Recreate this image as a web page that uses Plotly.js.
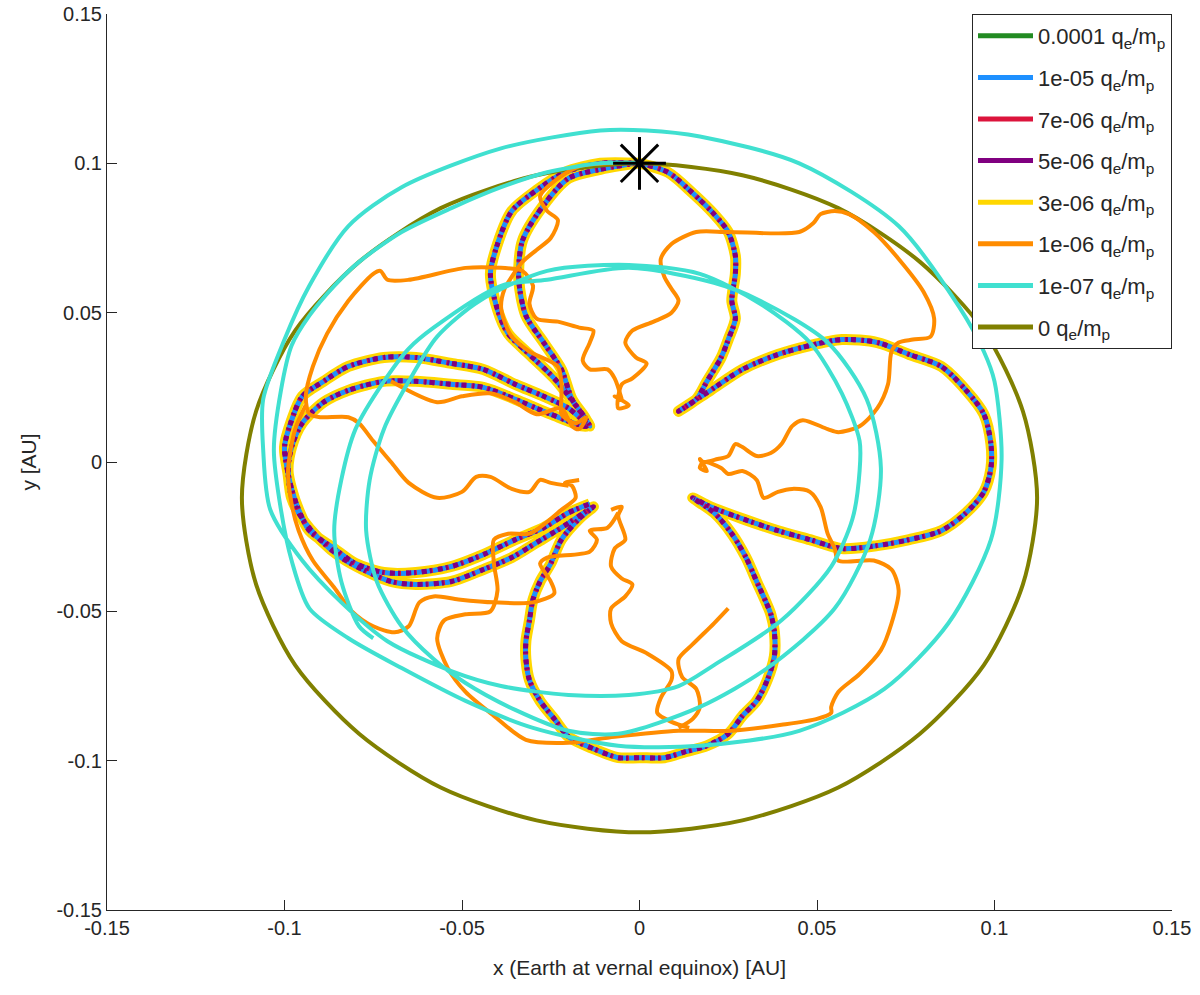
<!DOCTYPE html>
<html>
<head>
<meta charset="utf-8">
<script src="https://cdn.plot.ly/plotly-3.0.1.min.js"></script>
<style>
  body { margin: 0; background: #fff; }
  #plot { width: 1200px; height: 995px; }
</style>
</head>
<body>
<div id="plot"></div>
<script>
// axis ticks
let tickVals = [-0.15, -0.1, -0.05, 0, 0.05, 0.1, 0.15];
let tickText = ["-0.15", "-0.1", "-0.05", "0", "0.05", "0.1", "0.15"];

// start point (asterisk)
let startX = [0];
let startY = [0.1];

// 0 qe/mp : unperturbed orbit
let olvX = [0.000, 0.029, 0.056, 0.079, 0.097, 0.108, 0.112, 0.108, 0.097, 0.079, 0.056, 0.029, 0.000,
  -0.029, -0.056, -0.079, -0.097, -0.108, -0.112, -0.108, -0.097, -0.079, -0.056, -0.029, 0.000];
let olvY = [0.100, 0.096, 0.085, 0.067, 0.044, 0.017, -0.012, -0.041, -0.068, -0.091, -0.109, -0.120, -0.124,
  -0.120, -0.109, -0.091, -0.068, -0.041, -0.012, 0.017, 0.044, 0.067, 0.085, 0.096, 0.100];

// 1e-07 qe/mp
let cyanX = [0.000, -0.011, -0.026, -0.039, -0.053, -0.067, -0.079, -0.086, -0.093, -0.098, -0.101, -0.103, -0.101,
  -0.098, -0.093, -0.082, -0.067, -0.049, -0.030, -0.006, 0.017, 0.045, 0.069, 0.087, 0.099, 0.102, 0.100, 0.097,
  0.090, 0.073, 0.045, 0.017, 0.002, -0.011, -0.039, -0.067, -0.082, -0.093, -0.100, -0.106, -0.106, -0.104,
  -0.095, -0.084, -0.071, -0.053, -0.039, -0.020, -0.003, 0.011, 0.021, 0.040, 0.054, 0.060, 0.062, 0.062, 0.057,
  0.048, 0.034, 0.017, -0.003, -0.026, -0.045, -0.057, -0.065, -0.072, -0.076, -0.077, -0.074, -0.067, -0.058,
  -0.049, -0.035, -0.020, -0.006, 0.017, 0.036, 0.055, 0.065, 0.068, 0.064, 0.053, 0.034, 0.021, -0.003, -0.026,
  -0.039, -0.058, -0.065, -0.072, -0.080, -0.084, -0.086, -0.084, -0.079, -0.075];
let cyanY = [0.100, 0.100, 0.097, 0.092, 0.085, 0.077, 0.067, 0.059, 0.049, 0.039, 0.024, 0.004, -0.016,
  -0.033, -0.049, -0.059, -0.069, -0.080, -0.089, -0.095, -0.095, -0.090, -0.076, -0.054, -0.026, 0.001, 0.027, 0.037,
  0.052, 0.079, 0.100, 0.109, 0.111, 0.111, 0.105, 0.092, 0.079, 0.059, 0.041, 0.021, 0.004, -0.016,
  -0.033, -0.047, -0.060, -0.070, -0.075, -0.078, -0.078, -0.075, -0.068, -0.053, -0.035, -0.019, -0.003, 0.007, 0.023,
  0.040, 0.053, 0.063, 0.066, 0.064, 0.054, 0.042, 0.027, 0.011, -0.006, -0.023, -0.040, -0.055, -0.066,
  -0.074, -0.083, -0.090, -0.091, -0.082, -0.069, -0.049, -0.026, -0.002, 0.021, 0.040, 0.054, 0.060, 0.065, 0.061,
  0.059, 0.045, 0.038, 0.027, 0.011, -0.006, -0.023, -0.040, -0.055, -0.059];

// four-petal path shared by 1e-04 ... 3e-06 qe/mp
let petalX = [
  // top petal, left side (outer)
  0.000, -0.011, -0.021, -0.029, -0.036, -0.040, -0.042, -0.040, -0.037, -0.031, -0.024, -0.018, -0.014,
  // left petal
  -0.020, -0.027, -0.035, -0.044, -0.053, -0.063, -0.072, -0.082, -0.089, -0.095, -0.098, -0.100, -0.099, -0.098,
  -0.095, -0.090, -0.084, -0.078, -0.070, -0.063, -0.053, -0.044, -0.036, -0.029, -0.022, -0.013,
  // bottom petal
  -0.017, -0.022, -0.025, -0.028, -0.030, -0.031, -0.032, -0.032, -0.031, -0.028, -0.024, -0.020, -0.013, -0.006,
  0.000, 0.007, 0.013, 0.019, 0.025, 0.029, 0.033, 0.036, 0.038, 0.038, 0.037, 0.033, 0.030, 0.026, 0.021, 0.015,
  // right petal
  0.020, 0.029, 0.039, 0.048, 0.057, 0.067, 0.076, 0.085, 0.092, 0.097, 0.099, 0.099, 0.097, 0.092, 0.085, 0.076,
  0.067, 0.057, 0.048, 0.039, 0.029, 0.020, 0.011,
  // top petal, right side
  0.016, 0.019, 0.023, 0.025, 0.027, 0.026, 0.027, 0.027, 0.025, 0.021, 0.015, 0.008, 0.000,
  // top petal, left side (inner)
  -0.001, -0.011, -0.020, -0.027, -0.033, -0.034, -0.032, -0.027, -0.022, -0.019, -0.015,
  // left petal, second pass
  -0.015, -0.025, -0.035, -0.044, -0.053, -0.063, -0.072, -0.082, -0.089, -0.095, -0.098, -0.099, -0.098,
  -0.096, -0.093, -0.086, -0.080, -0.072, -0.063, -0.053, -0.044, -0.035, -0.027, -0.020, -0.014];
let petalY = [
  0.100, 0.100, 0.097, 0.091, 0.084, 0.073, 0.063, 0.051, 0.043, 0.036, 0.028, 0.019, 0.012,
  0.018, 0.022, 0.026, 0.031, 0.033, 0.035, 0.035, 0.032, 0.027, 0.022, 0.014, 0.005, -0.004, -0.012,
  -0.019, -0.026, -0.032, -0.036, -0.040, -0.041, -0.040, -0.036, -0.032, -0.027, -0.022, -0.015,
  -0.019, -0.026, -0.034, -0.040, -0.046, -0.053, -0.060, -0.066, -0.073, -0.080, -0.086, -0.092, -0.096, -0.099,
  -0.099, -0.099, -0.097, -0.095, -0.091, -0.085, -0.080, -0.073, -0.065, -0.057, -0.051, -0.040, -0.032, -0.024, -0.017, -0.012,
  -0.015, -0.019, -0.023, -0.026, -0.029, -0.028, -0.026, -0.023, -0.017, -0.010, -0.002, 0.006, 0.016, 0.024, 0.032, 0.036,
  0.040, 0.041, 0.039, 0.036, 0.031, 0.024, 0.017,
  0.021, 0.027, 0.035, 0.041, 0.048, 0.054, 0.063, 0.069, 0.077, 0.083, 0.090, 0.097, 0.100,
  0.100, 0.098, 0.095, 0.086, 0.074, 0.061, 0.049, 0.040, 0.031, 0.021, 0.014,
  0.012, 0.016, 0.021, 0.025, 0.026, 0.027, 0.027, 0.024, 0.020, 0.013, 0.005, -0.003, -0.009,
  -0.016, -0.023, -0.029, -0.034, -0.037, -0.037, -0.035, -0.031, -0.026, -0.022, -0.017, -0.014];

// 1e-06 qe/mp (pieces separated by null)
let orangeX = [
  0.000, -0.009, -0.017, -0.024, -0.028, -0.026, -0.023, -0.025, -0.029, -0.033, -0.036, -0.038, -0.039, -0.038,
  -0.036, -0.031, -0.023, -0.022, -0.022, -0.022, -0.018, -0.015, -0.017, -0.019, -0.022, -0.029, -0.035, -0.042,
  -0.050, -0.057, -0.070, null,
  -0.005, -0.007, -0.003, -0.006, -0.005, -0.002, 0.002, -0.001, -0.004, -0.002, 0.004, 0.009, 0.011, 0.009, 0.007,
  0.006, 0.009, 0.016, 0.025, 0.045, 0.049, 0.051, 0.055, 0.059, 0.066, 0.073, 0.080, 0.083, 0.082, 0.077, 0.073,
  0.071, 0.070, 0.067, 0.062, 0.056, 0.053, 0.046, 0.043, 0.040, 0.037, 0.033, 0.029, 0.027, 0.025, 0.022, 0.018,
  0.017, 0.019, 0.017, 0.018, 0.023, 0.025, 0.029, 0.033, 0.035, 0.039, 0.043, 0.048, 0.051, 0.053, 0.055, 0.056,
  0.066, 0.071, 0.073, 0.071, 0.068, 0.062, 0.056, 0.054, 0.054, 0.050, 0.040, 0.026, 0.011, -0.007, -0.020, -0.032,
  -0.041, -0.049, -0.054, -0.057, -0.055, -0.049, -0.042, -0.040, -0.041, -0.041, -0.037, -0.031, -0.026, -0.022,
  -0.018, -0.019, -0.021, -0.017, null,
  -0.005, -0.007, -0.009, -0.014, -0.016, -0.014, -0.013, -0.017, -0.023, -0.029, -0.031, -0.030, -0.033, -0.039,
  -0.049, -0.065, -0.071, -0.073, -0.075, -0.082, -0.088, -0.092, -0.094, -0.093, -0.090, -0.082, -0.079, -0.075,
  -0.070, -0.065, -0.057, -0.050, -0.046, -0.042, -0.036, -0.031, -0.028, -0.025, -0.020, null,
  -0.008, -0.005, -0.006, -0.004, -0.007, -0.008, -0.005, -0.002, -0.004, -0.008, -0.008, -0.005, 0.002, 0.009,
  0.009, 0.006, 0.005, 0.009, 0.014, null,
  0.025, 0.021, 0.015, 0.011, 0.012, 0.016, 0.017, 0.015, 0.011, null,
  -0.006, -0.009, -0.014, -0.012, -0.014, -0.026, -0.028, -0.025, -0.024, -0.030, -0.041, -0.051, -0.058, -0.062,
  -0.065, -0.069, -0.075, -0.081, -0.086, -0.092, -0.096, -0.098, -0.099, -0.097, -0.094];
let orangeY = [
  0.100, 0.100, 0.099, 0.094, 0.089, 0.084, 0.081, 0.075, 0.071, 0.067, 0.062, 0.058, 0.052, 0.047,
  0.042, 0.037, 0.032, 0.026, 0.021, 0.016, 0.013, 0.015, 0.011, 0.012, 0.018, 0.016, 0.020, 0.023,
  0.022, 0.020, 0.027, null,
  0.021, 0.022, 0.019, 0.018, 0.026, 0.028, 0.033, 0.035, 0.040, 0.044, 0.047, 0.050, 0.054, 0.058, 0.062,
  0.068, 0.073, 0.077, 0.077, 0.077, 0.080, 0.083, 0.084, 0.083, 0.077, 0.068, 0.057, 0.048, 0.042, 0.041, 0.040,
  0.037, 0.026, 0.018, 0.012, 0.010, 0.011, 0.014, 0.012, 0.006, 0.003, 0.002, 0.005, 0.006, 0.002, 0.001, 0.000,
  0.001, -0.003, -0.002, 0.000, -0.002, -0.004, -0.003, -0.006, -0.012, -0.010, -0.009, -0.010, -0.015, -0.024, -0.029, -0.033,
  -0.033, -0.036, -0.043, -0.054, -0.063, -0.071, -0.077, -0.082, -0.084, -0.086, -0.088, -0.090, -0.090, -0.092, -0.094, -0.093,
  -0.085, -0.077, -0.069, -0.059, -0.053, -0.051, -0.050, -0.043, -0.034, -0.026, -0.024, -0.024, -0.020, -0.016,
  -0.012, -0.008, -0.007, -0.006, null,
  0.021, 0.028, 0.031, 0.031, 0.034, 0.040, 0.044, 0.045, 0.047, 0.048, 0.053, 0.059, 0.064, 0.065,
  0.065, 0.061, 0.061, 0.064, 0.063, 0.054, 0.043, 0.032, 0.022, 0.016, 0.015, 0.015, 0.013, 0.007,
  0.000, -0.007, -0.012, -0.010, -0.005, -0.005, -0.009, -0.010, -0.006, -0.007, -0.008, null,
  -0.016, -0.015, -0.018, -0.026, -0.029, -0.035, -0.039, -0.041, -0.045, -0.049, -0.054, -0.060, -0.064, -0.070,
  -0.073, -0.079, -0.084, -0.087, -0.089, null,
  -0.049, -0.054, -0.061, -0.066, -0.072, -0.076, -0.082, -0.086, -0.089, null,
  -0.017, -0.022, -0.023, -0.026, -0.030, -0.032, -0.034, -0.040, -0.044, -0.047, -0.047, -0.046, -0.045, -0.047,
  -0.055, -0.057, -0.055, -0.050, -0.042, -0.033, -0.023, -0.014, -0.003, 0.011, 0.019];

let seriesNames = ["0.0001 q<sub>e</sub>/m<sub>p</sub>", "1e-05 q<sub>e</sub>/m<sub>p</sub>", "7e-06 q<sub>e</sub>/m<sub>p</sub>",
  "5e-06 q<sub>e</sub>/m<sub>p</sub>", "3e-06 q<sub>e</sub>/m<sub>p</sub>", "1e-06 q<sub>e</sub>/m<sub>p</sub>",
  "1e-07 q<sub>e</sub>/m<sub>p</sub>", "0 q<sub>e</sub>/m<sub>p</sub>"];
let seriesColors = ["#228b22", "#1e90ff", "#dc143c", "#800080", "#ffd700", "#ff8c00", "#40e0d0", "#808000"];

function lineTrace(x, y, i, width, dash, shape) {
  return {
    x: x, y: y, type: "scatter", mode: "lines",
    name: seriesNames[i], legendgroup: "g" + i, showlegend: false,
    line: { color: seriesColors[i], width: width, dash: dash || "solid", shape: shape || "linear", smoothing: 0.8 },
    connectgaps: false
  };
}

// drawing order: wide yellow under the jittery petal colours, then orbits on top
let traces = [
  lineTrace(petalX, petalY, 4, 11, "solid", "spline"),
  lineTrace(petalX, petalY, 0, 4, "solid", "spline"),
  lineTrace(petalX, petalY, 1, 5, "solid", "spline"),
  lineTrace(petalX, petalY, 2, 5, "3px,5px", "spline"),
  lineTrace(petalX, petalY, 3, 5, "5px,3px,2px,6px", "spline"),
  lineTrace(olvX, olvY, 7, 4, "solid", "spline"),
  lineTrace(orangeX, orangeY, 5, 4, "solid", "spline"),
  lineTrace(cyanX, cyanY, 6, 4, "solid", "spline"),
  {
    x: startX, y: startY, type: "scatter", mode: "markers", showlegend: false,
    marker: { symbol: "asterisk-open", size: 44, color: "#000", line: { color: "#000", width: 3 } }
  }
];

// legend entries: plain solid samples, in the original order
seriesNames.forEach((name, i) => {
  traces.push({
    x: [null], y: [null], type: "scatter", mode: "lines",
    name: name, legendgroup: "g" + i, legendrank: i + 1, showlegend: true,
    line: { color: seriesColors[i], width: 5 }
  });
});

let axisFont = { family: "Liberation Sans, Arial, sans-serif", size: 20, color: "#262626" };
let axisBase = {
  range: [-0.15, 0.15], tickvals: tickVals, ticktext: tickText,
  ticks: "inside", ticklen: 10, tickwidth: 1, tickcolor: "#262626",
  showline: true, linecolor: "#262626", linewidth: 1, mirror: false,
  showgrid: false, zeroline: false, tickfont: axisFont
};

let layout = {
  width: 1200, height: 995,
  margin: { l: 107, r: 28, t: 14, b: 85 },
  paper_bgcolor: "#fff", plot_bgcolor: "#fff",
  font: axisFont,
  xaxis: Object.assign({}, axisBase, {
    title: { text: "x (Earth at vernal equinox) [AU]", font: { family: axisFont.family, size: 21, color: "#262626" }, standoff: 22 }
  }),
  yaxis: Object.assign({}, axisBase, {
    title: { text: "y [AU]", font: { family: axisFont.family, size: 21, color: "#262626" }, standoff: 14 }
  }),
  legend: {
    x: 1, y: 1, xanchor: "right", yanchor: "top",
    bgcolor: "#fff", bordercolor: "#262626", borderwidth: 1,
    font: { family: axisFont.family, size: 22, color: "#262626" },
    itemwidth: 55, traceorder: "grouped", tracegroupgap: 10
  },
  showlegend: true
};

Plotly.newPlot("plot", traces, layout, { displayModeBar: false, staticPlot: true });
</script>
</body>
</html>
